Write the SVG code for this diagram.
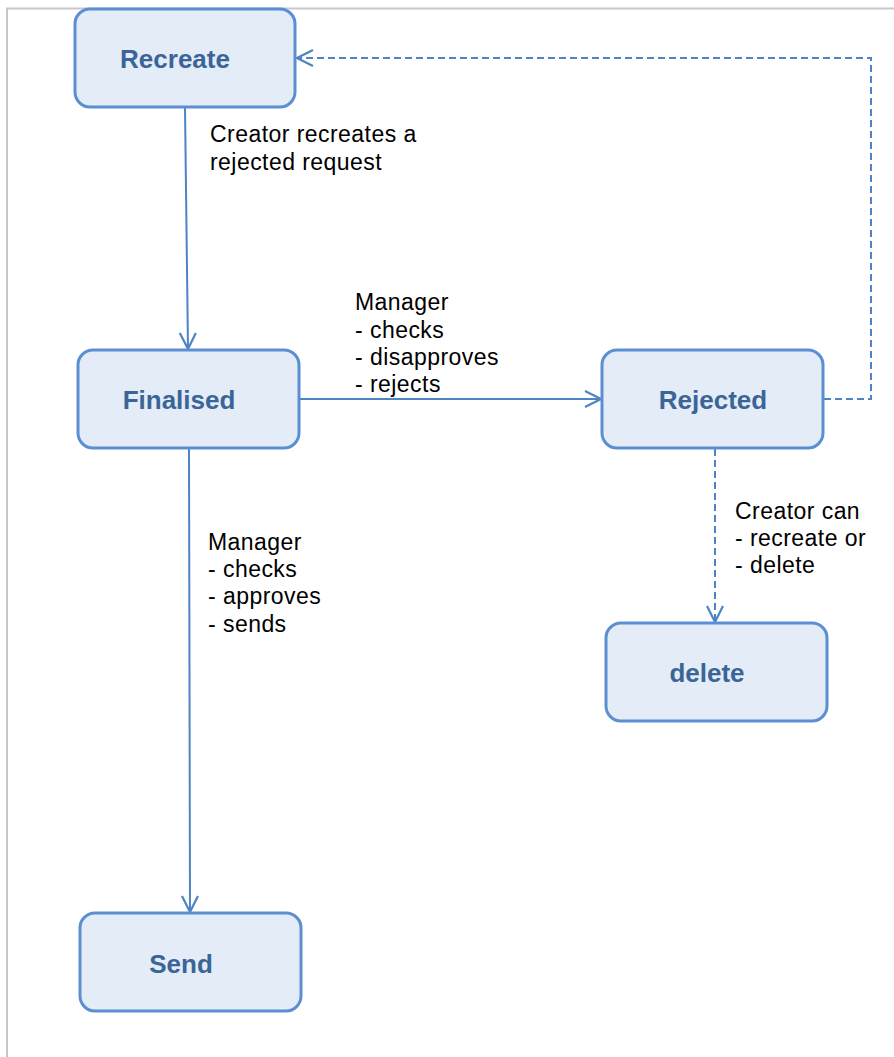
<svg xmlns="http://www.w3.org/2000/svg" width="894" height="1057" viewBox="0 0 894 1057">
<style>
.node rect{fill:#e4ecf8;stroke:#5b8fd2;stroke-width:3}
.node text{font-family:"Liberation Sans",Arial,sans-serif;font-weight:bold;font-size:26px;fill:#3b6597;text-anchor:middle}
.lbl{font-family:"Liberation Sans",Arial,sans-serif;font-size:23px;letter-spacing:0.45px;fill:#000}
.edge{fill:none;stroke:#4f84c4;stroke-width:2}
.dash{stroke-dasharray:7 4}
</style>
<defs>
<marker id="arr" viewBox="0 0 20 20" refX="18" refY="10" markerWidth="20" markerHeight="20" markerUnits="userSpaceOnUse" orient="auto">
<path d="M2,2 L18,10 L2,18" fill="none" stroke="#4f84c4" stroke-width="2.2"/>
</marker>
</defs>
<rect width="894" height="1057" fill="#fff"/>
<path d="M7,1057 V8.5 H894" fill="none" stroke="#c8c8c8" stroke-width="2"/>
<g id="connectors">
<path class="edge" d="M185,108 L188,349" marker-end="url(#arr)"/>
<path class="edge" d="M189,449 L190,912" marker-end="url(#arr)"/>
<path class="edge" d="M300,399 L601,399" marker-end="url(#arr)"/>
<path class="edge dash" d="M824,399 H871 V58 H297" marker-end="url(#arr)"/>
<path class="edge dash" d="M715,449 V622" marker-end="url(#arr)"/>
<text class="lbl" x="210" y="142">Creator recreates a</text>
<text class="lbl" x="210" y="170">rejected request</text>
<text class="lbl" x="355" y="310">Manager</text>
<text class="lbl" x="355" y="338">- checks</text>
<text class="lbl" x="355" y="365">- disapproves</text>
<text class="lbl" x="355" y="392">- rejects</text>
<text class="lbl" x="208" y="550">Manager</text>
<text class="lbl" x="208" y="577">- checks</text>
<text class="lbl" x="208" y="604">- approves</text>
<text class="lbl" x="208" y="632">- sends</text>
<text class="lbl" x="735" y="519">Creator can</text>
<text class="lbl" x="735" y="546">- recreate or</text>
<text class="lbl" x="735" y="573">- delete</text>
</g>
<g id="recreate" class="node"><rect x="75" y="9" width="220" height="98" rx="15"/><text x="175" y="68">Recreate</text></g>
<g id="finalised" class="node"><rect x="78" y="350" width="221" height="98" rx="15"/><text x="179" y="409">Finalised</text></g>
<g id="rejected" class="node"><rect x="602" y="350" width="221" height="98" rx="15"/><text x="713" y="409">Rejected</text></g>
<g id="delete" class="node"><rect x="606" y="623" width="221" height="98" rx="15"/><text x="707" y="682">delete</text></g>
<g id="send" class="node"><rect x="80" y="913" width="221" height="98" rx="15"/><text x="181" y="973">Send</text></g>
</svg>
